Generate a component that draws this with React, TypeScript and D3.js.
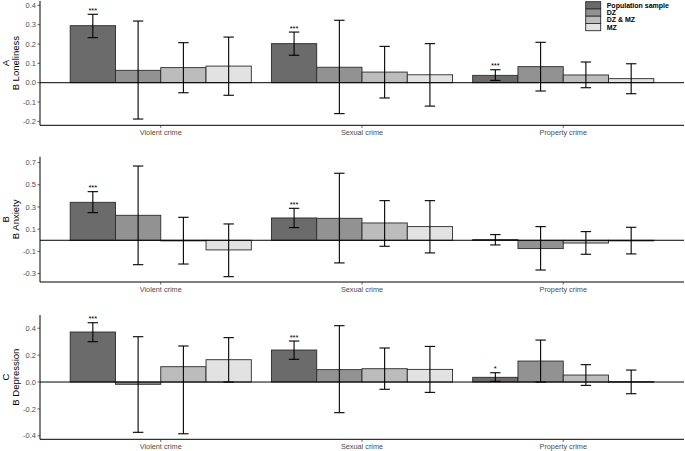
import React from "react";
import * as d3 from "d3";

const groups = ["Violent crime", "Sexual crime", "Property crime"];
const seriesNames = ["Population sample", "DZ", "DZ & MZ", "MZ"];
const seriesFill = ["#6b6b6b", "#929292", "#bcbcbc", "#e2e2e2"];

// Panel A: Loneliness  [group][series]
const lonelinessB = [
  [0.295, 0.064, 0.078, 0.086],
  [0.202, 0.080, 0.055, 0.041],
  [0.038, 0.083, 0.040, 0.021],
];
const lonelinessLo = [
  [0.233, -0.188, -0.052, -0.065],
  [0.142, -0.160, -0.079, -0.121],
  [0.012, -0.043, -0.026, -0.057],
];
const lonelinessHi = [
  [0.354, 0.319, 0.207, 0.236],
  [0.262, 0.323, 0.188, 0.202],
  [0.067, 0.209, 0.107, 0.098],
];
const lonelinessSig = ["***", "***", "***"];

// Panel B: Anxiety
const anxietyB = [
  [0.342, 0.225, 0.0, -0.087],
  [0.201, 0.198, 0.156, 0.123],
  [0.006, -0.075, -0.025, -0.002],
];
const anxietyLo = [
  [0.249, -0.220, -0.214, -0.328],
  [0.114, -0.204, -0.054, -0.114],
  [-0.042, -0.268, -0.126, -0.123],
];
const anxietyHi = [
  [0.438, 0.669, 0.207, 0.147],
  [0.288, 0.604, 0.357, 0.357],
  [0.051, 0.123, 0.078, 0.117],
];
const anxietySig = ["***", "***", ""];

// Panel C: Depression
const depressionB = [
  [0.372, -0.017, 0.114, 0.166],
  [0.238, 0.092, 0.099, 0.094],
  [0.035, 0.156, 0.052, 0.003],
];
const depressionLo = [
  [0.300, -0.374, -0.385, 0.0],
  [0.169, -0.228, -0.054, -0.077],
  [0.005, 0.0, -0.025, -0.087],
];
const depressionHi = [
  [0.441, 0.337, 0.268, 0.330],
  [0.305, 0.419, 0.253, 0.265],
  [0.069, 0.312, 0.129, 0.089],
];
const depressionSig = ["***", "***", "*"];

const ticksA = [-0.2, -0.1, 0.0, 0.1, 0.2, 0.3, 0.4];
const ticksB = [-0.3, -0.1, 0.1, 0.3, 0.5, 0.7];
const ticksC = [-0.4, -0.2, 0.0, 0.2, 0.4];

const W = 685;
const H = 451;
const X0 = 40;
const X1 = 684;
const FONT = "'Liberation Sans', Arial, Helvetica, sans-serif";

type PanelDef = {
  letter: string;
  title: string;
  b: number[][];
  lo: number[][];
  hi: number[][];
  sig: string[];
  ticks: number[];
  top: number;
  bottom: number;
  domain: [number, number];
};

const panels: PanelDef[] = [
  { letter: "A", title: "B Loneliness", b: lonelinessB, lo: lonelinessLo, hi: lonelinessHi, sig: lonelinessSig, ticks: ticksA, top: 1, bottom: 125.3, domain: [-0.2204, 0.4227] },
  { letter: "B", title: "B Anxiety", b: anxietyB, lo: anxietyLo, hi: anxietyHi, sig: anxietySig, ticks: ticksB, top: 156.7, bottom: 282, domain: [-0.376, 0.753] },
  { letter: "C", title: "B Depression", b: depressionB, lo: depressionLo, hi: depressionHi, sig: depressionSig, ticks: ticksC, top: 315, bottom: 439.3, domain: [-0.426, 0.4985] },
];

const fmt = (v: number) => d3.format(".1f")(v).replace("\u2212", "-");

function Panel({ p }: { p: PanelDef }) {
  const x = d3.scaleBand<string>().domain(groups).range([X0, X1]).paddingInner(0).paddingOuter(0.1);
  const step = x.bandwidth();
  const inner = d3.scaleBand<string>().domain(seriesNames).range([-0.45 * step, 0.45 * step]).padding(0);
  const bw = inner.bandwidth();
  const y = d3.scaleLinear().domain(p.domain).range([p.bottom, p.top]);
  const capW = bw * 0.23;
  const midY = (p.top + p.bottom) / 2;

  return (
    <g>
      {groups.map((g, gi) =>
        seriesNames.map((s, si) => {
          const v = p.b[gi][si];
          const cx = (x(g) as number) + step / 2;
          const bx = cx + (inner(s) as number);
          const y0 = y(0);
          const yv = y(v);
          return (
            <rect
              key={`b-${gi}-${si}`}
              x={bx}
              y={Math.min(y0, yv)}
              width={bw}
              height={Math.max(Math.abs(yv - y0), 0.6)}
              fill={seriesFill[si]}
              stroke="#2b2b2b"
              strokeWidth={0.9}
            />
          );
        })
      )}
      <line x1={X0} x2={X1} y1={y(0)} y2={y(0)} stroke="#000" strokeWidth={1} />
      {groups.map((g, gi) =>
        seriesNames.map((s, si) => {
          const cx = (x(g) as number) + step / 2 + (inner(s) as number) + bw / 2;
          const yl = y(p.lo[gi][si]);
          const yh = y(p.hi[gi][si]);
          return (
            <g key={`e-${gi}-${si}`} stroke="#000" strokeWidth={1.1}>
              <line x1={cx} x2={cx} y1={yl} y2={yh} />
              <line x1={cx - capW / 2} x2={cx + capW / 2} y1={yh} y2={yh} />
              <line x1={cx - capW / 2} x2={cx + capW / 2} y1={yl} y2={yl} />
            </g>
          );
        })
      )}
      {groups.map((g, gi) => {
        const sig = p.sig[gi];
        if (!sig) return null;
        const cx = (x(g) as number) + step / 2 + (inner(seriesNames[0]) as number) + bw / 2;
        return (
          <text key={`s-${gi}`} x={cx} y={y(p.hi[gi][0]) - 1.5} textAnchor="middle" fontSize={7.5} fontFamily={FONT} fill="#000">
            {sig}
          </text>
        );
      })}
      <line x1={X0} x2={X0} y1={p.top} y2={p.bottom} stroke="#000" strokeWidth={1} />
      <line x1={X0} x2={X1} y1={p.bottom} y2={p.bottom} stroke="#000" strokeWidth={1} />
      {p.ticks.map((t) => (
        <g key={`t-${t}`}>
          <line x1={X0 - 2.5} x2={X0} y1={y(t)} y2={y(t)} stroke="#333" strokeWidth={0.8} />
          <text x={X0 - 4} y={y(t) + 2.6} textAnchor="end" fontSize={7.5} fontFamily={FONT} fill="#4d4d4d">
            {fmt(t)}
          </text>
        </g>
      ))}
      {groups.map((g) => {
        const cx = (x(g) as number) + step / 2;
        return (
          <g key={`xt-${g}`}>
            <line x1={cx} x2={cx} y1={p.bottom} y2={p.bottom + 2.5} stroke="#333" strokeWidth={0.8} />
            <text x={cx} y={p.bottom + 10} textAnchor="middle" fontSize={7.3} fontFamily={FONT} fill="#4d4d4d">
              {g}
            </text>
          </g>
        );
      })}
      <text transform={`translate(8.5,${midY}) rotate(-90)`} textAnchor="middle" fontSize={9.5} fontFamily={FONT} fill="#000">
        {p.letter}
      </text>
      <text transform={`translate(18.5,${midY}) rotate(-90)`} textAnchor="middle" fontSize={9.5} fontFamily={FONT} fill="#000">
        {p.title}
      </text>
    </g>
  );
}

function Legend() {
  const lx = 585.7;
  const ly = 1.7;
  const rowH = 7.25;
  return (
    <g>
      {seriesNames.map((s, i) => (
        <g key={`l-${s}`}>
          <rect x={lx} y={ly + i * rowH} width={15} height={rowH} fill={seriesFill[i]} stroke="#2b2b2b" strokeWidth={0.9} />
          <text x={lx + 21} y={ly + i * rowH + rowH / 2 + 2.5} fontSize={7} fontFamily={FONT} fontWeight={600} fill="#000">
            {s}
          </text>
        </g>
      ))}
    </g>
  );
}

export default function App() {
  return (
    <div style={{ position: "absolute", left: 0, top: 0 }}>
      <svg width={W} height={H} viewBox={`0 0 ${W} ${H}`} style={{ display: "block", background: "#fff" }}>
        <rect x={0} y={0} width={W} height={H} fill="#fff" />
        {panels.map((p) => (
          <Panel key={p.letter} p={p} />
        ))}
        <Legend />
      </svg>
    </div>
  );
}
